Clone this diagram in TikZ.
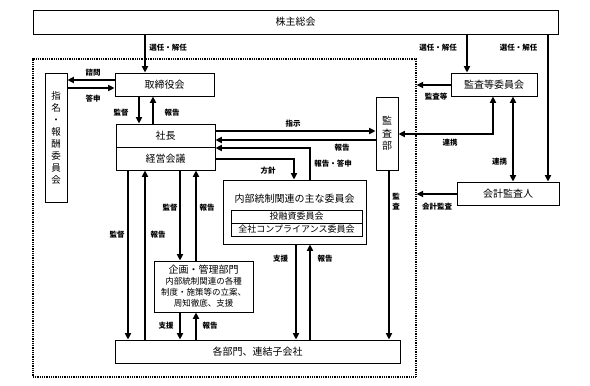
\documentclass[tikz,border=0pt]{standalone}
\usepackage{fontspec}
\setmainfont{Noto Sans CJK JP}
\usetikzlibrary{arrows.meta}
\newcommand\smallline{\fontsize{8.5}{10.5}\selectfont}
\begin{document}
\begin{tikzpicture}[x=1pt,y=-1pt,
  box/.style={draw, line width=0.8pt, inner sep=0pt, font=\fontsize{10}{12}\selectfont},
  frame/.style={draw, dash pattern=on 0.9pt off 0.9pt, line width=1.2pt, inner sep=0pt},
  arr/.style={line width=1.8pt, -{Triangle[length=6.5pt,width=6pt]}},
  darr/.style={line width=1.8pt, {Triangle[length=6.5pt,width=6pt]}-{Triangle[length=6.5pt,width=6pt]}},
  lbl/.style={font=\fontsize{7.5}{9}\selectfont\bfseries, inner sep=0pt}]
\useasboundingbox (0,0) rectangle (590,386);

% frame
\node[frame, minimum width=383, minimum height=318] (frame) at (224.5,218) {};

% boxes
\node[box, minimum width=525, minimum height=24] (agm) at (295.5,22) {株主総会};
\node[box, minimum width=99, minimum height=23] (board) at (164.5,84.5) {取締役会};
\node[box, minimum width=22, minimum height=129, align=center, font=\fontsize{9.5}{12}\selectfont] (nom) at (56,137.5) {指\\名\\・\\報\\酬\\委\\員\\会};
\node[box, minimum width=99, minimum height=23] (pres) at (165.5,135.5) {社長};
\node[box, minimum width=99, minimum height=23] (mtg) at (165.5,158.5) {経営会議};
\node[box, minimum width=22, minimum height=73, align=center, font=\fontsize{10}{12.5}\selectfont] (audit) at (387,133.5) {監\\査\\部};
\node[box, minimum width=143, minimum height=64] (ic) at (294.5,212) {};
\node[font=\fontsize{10}{12}\selectfont, inner sep=0pt] (ictitle) at (294.5,199) {内部統制関連の主な委員会};
\node[box, minimum width=131, minimum height=13, font=\fontsize{9}{11}\selectfont] (inv) at (296.5,216.5) {投融資委員会};
\node[box, minimum width=131, minimum height=13, font=\fontsize{9}{11}\selectfont] (comp) at (296.5,229.5) {全社コンプライアンス委員会};
\node[box, minimum width=99, minimum height=51, align=center] (plan) at (203.5,286.5)
  {企画・管理部門\\[-1pt]\smallline 内部統制関連の各種\\[-1pt]\smallline 制度・施策等の立案、\\[-1pt]\smallline 周知徹底、支援};
\node[box, minimum width=285, minimum height=23] (dept) at (257.5,351.5) {各部門、連結子会社};
\node[box, minimum width=86, minimum height=23] (ac) at (494,84.5) {監査等委員会};
\node[box, minimum width=102, minimum height=23] (ca) at (508,193.5) {会計監査人};

% helper coordinates
\foreach \v in {128,139,145,153,180,196,294,296,310,389,467,493,513,548}
  \coordinate (x\v) at (\v,0);
\foreach \v in {80,85,88,131,134,140,148,159,194}
  \coordinate (y\v) at (0,\v);

% connectors
\draw[arr] (agm.south -| x145) -- (board.north -| x145);
\node[lbl] at (168,48) {選任・解任};
\draw[arr] (board.west |- y80) -- (nom.east |- y80);
\node[lbl] at (93,73) {諮問};
\draw[arr] (nom.east |- y88) -- (board.west |- y88);
\node[lbl] at (93,99) {答申};
\draw[arr] (board.south -| x139) -- (pres.north -| x139);
\node[lbl] at (121,113) {監督};
\draw[arr] (pres.north -| x153) -- (board.south -| x153);
\node[lbl] at (172,113) {報告};

\draw[arr] (pres.east |- y131) -- (audit.west |- y131);
\node[lbl] at (293,124) {指示};
\draw[arr] (audit.west |- y140) -- (pres.east |- y140);
\node[lbl] at (342,148) {報告};
\draw[arr] (ic.north -| x310) |- (mtg.east |- y148);
\node[lbl] at (333,164) {報告・答申};
\draw[arr] (mtg.east |- y159) -| (ic.north -| x294);
\node[lbl] at (268,171) {方針};

\draw[arr] (audit.south -| x389) -- (dept.north -| x389);
\node[lbl, align=center, font=\fontsize{7.5}{10}\selectfont\bfseries] at (396,202) {監\\査};
\draw[arr] (ic.south -| x296) -- (dept.north -| x296);
\node[lbl] at (280.5,259) {支援};
\draw[arr] (dept.north -| x310) -- (ic.south -| x310);
\node[lbl] at (325,259) {報告};

\draw[arr] (mtg.south -| x128) -- (dept.north -| x128);
\node[lbl] at (117,235) {監督};
\draw[arr] (dept.north -| x145) -- (mtg.south -| x145);
\node[lbl] at (158,235) {報告};
\draw[arr] (mtg.south -| x180) -- (plan.north -| x180);
\node[lbl] at (170,208) {監督};
\draw[arr] (plan.north -| x196) -- (mtg.south -| x196);
\node[lbl] at (207,208) {報告};
\draw[arr] (plan.south -| x180) -- (dept.north -| x180);
\node[lbl] at (166,326) {支援};
\draw[arr] (dept.north -| x196) -- (plan.south -| x196);
\node[lbl] at (210,326) {報告};

\draw[arr] (agm.south -| x467) -- (ac.north -| x467);
\node[lbl] at (438,48) {選任・解任};
\draw[arr] (agm.south -| x548) -- (ca.north -| x548);
\node[lbl] at (518.5,48) {選任・解任};
\draw[arr] (ac.west |- y85) -- (frame.east |- y85);
\node[lbl] at (436,97) {監査等};
\draw[darr] (ac.south -| x493) |- (audit.east |- y134);
\node[lbl] at (450,143) {連携};
\draw[darr] (ac.south -| x513) -- (ca.north -| x513);
\node[lbl] at (499.5,162) {連携};
\draw[arr] (ca.west |- y194) -- (frame.east |- y194);
\node[lbl] at (437,207) {会計監査};
\end{tikzpicture}
\end{document}
